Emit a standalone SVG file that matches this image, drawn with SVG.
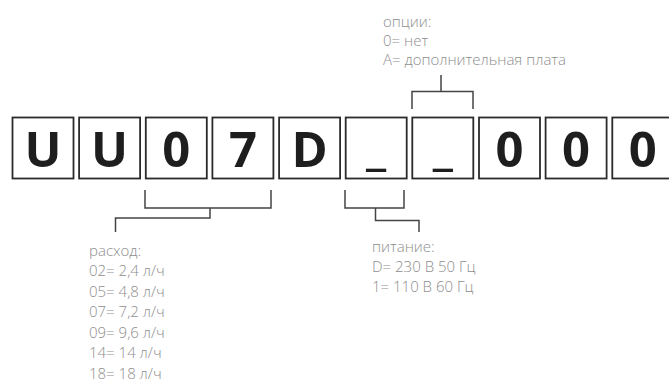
<svg xmlns="http://www.w3.org/2000/svg" width="669" height="384" viewBox="0 0 669 384">
<style>
.box{fill:#fff;stroke:#2b2b2b;stroke-width:1.8}
.ch{font-family:"Open Sans","Liberation Sans",sans-serif;font-weight:700;font-size:49px;fill:#1e1e1e;text-anchor:middle}
.lbl{font-family:"Open Sans","Liberation Sans",sans-serif;font-weight:300;font-size:15px;fill:#8e8e8e}
.con{fill:none;stroke:#444;stroke-width:1.5}
</style>
<rect width="669" height="384" fill="#fff"/>
<g id="nodes">
<g id="n1"><rect class="box" x="12.5" y="117.5" width="61" height="61"/><text class="ch" x="43" y="167">U</text></g>
<g id="n2"><rect class="box" x="79.1" y="117.5" width="61" height="61"/><text class="ch" x="109.6" y="167">U</text></g>
<g id="n3"><rect class="box" x="145.8" y="117.5" width="61" height="61"/><text class="ch" x="176.3" y="167">0</text></g>
<g id="n4"><rect class="box" x="212.4" y="117.5" width="61" height="61"/><text class="ch" x="242.9" y="167">7</text></g>
<g id="n5"><rect class="box" x="279.1" y="117.5" width="61" height="61"/><text class="ch" x="309.6" y="167">D</text></g>
<g id="n6"><rect class="box" x="345.7" y="117.5" width="61" height="61"/><text class="ch" x="376.2" y="164">_</text></g>
<g id="n7"><rect class="box" x="412.3" y="117.5" width="61" height="61"/><text class="ch" x="442.8" y="164">_</text></g>
<g id="n8"><rect class="box" x="479" y="117.5" width="61" height="61"/><text class="ch" x="509.5" y="167">0</text></g>
<g id="n9"><rect class="box" x="545.6" y="117.5" width="61" height="61"/><text class="ch" x="576.1" y="167">0</text></g>
<g id="n10"><rect class="box" x="612.3" y="117.5" width="61" height="61"/><text class="ch" x="642.8" y="167">0</text></g>
</g>
<g id="connectors">
<path class="con" d="M412,109 V91.5 H473 V109 M441,91.5 V75"/>
<path class="con" d="M145,190 V208 H271 V190 M210,208 V218 H115.5 V232"/>
<path class="con" d="M345,190 V208 H404 V190 M375.5,208 V220.5 H419 V232"/>
</g>
<g id="labels">
<g id="opts" class="lbl">
<text x="383" y="27">опции:</text>
<text x="383" y="46">0= нет</text>
<text x="383" y="65">А= дополнительная плата</text>
</g>
<g id="flow" class="lbl">
<text x="89" y="255.5">расход:</text>
<text x="89" y="276">02= 2,4 л/ч</text>
<text x="89" y="296.5">05= 4,8 л/ч</text>
<text x="89" y="317">07= 7,2 л/ч</text>
<text x="89" y="337.5">09= 9,6 л/ч</text>
<text x="89" y="358">14= 14 л/ч</text>
<text x="89" y="378.5">18= 18 л/ч</text>
</g>
<g id="power" class="lbl">
<text x="372" y="252.3">питание:</text>
<text x="372" y="272.3">D= 230 В 50 Гц</text>
<text x="372" y="291.8">1= 110 В 60 Гц</text>
</g>
</g>
</svg>
